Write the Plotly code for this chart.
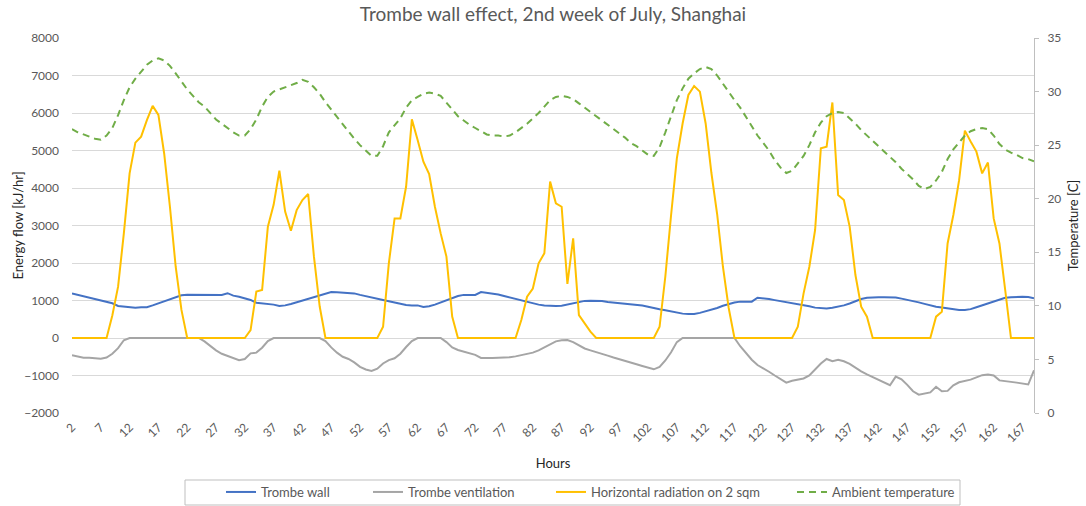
import plotly.graph_objects as go

# Hour index of the week (2..169)
hours = list(range(2, 170))

# Heat flow through the Trombe wall [kJ/hr]
trombe_wall = [
    1190, 1150, 1120, 1075, 1030, 985, 950, 925, 855, 835,
    830, 810, 820, 820, 870, 925, 995, 1050, 1100, 1140,
    1155, 1155, 1160, 1150, 1160, 1150, 1150, 1195, 1130, 1100,
    1060, 1015, 940, 925, 905, 890, 855, 870, 905, 950,
    995, 1060, 1100, 1130, 1190, 1225, 1220, 1210, 1210, 1190,
    1150, 1120, 1085, 1060, 1015, 980, 940, 905, 880, 870,
    870, 825, 845, 890, 950, 1020, 1080, 1120, 1150, 1150,
    1150, 1225, 1210, 1185, 1160, 1120, 1080, 1030, 990, 960,
    930, 890, 870, 855, 855, 860, 890, 925, 960, 990,
    995, 995, 985, 960, 945, 930, 910, 905, 890, 865,
    835, 790, 765, 740, 710, 680, 650, 640, 640, 670,
    710, 760, 800, 860, 910, 945, 970, 970, 970, 1075,
    1060, 1040, 1010, 985, 960, 935, 905, 875, 845, 810,
    790, 785, 805, 835, 870, 920, 980, 1040, 1075, 1085,
    1085, 1085, 1085, 1080, 1050, 1020, 985, 950, 910, 870,
    835, 815, 790, 765, 745, 750, 770, 820, 875, 930,
    985, 1035, 1075, 1090, 1100, 1100, 1095, 1060,
]

# Heat flow from Trombe ventilation [kJ/hr]
trombe_ventilation = [
    -460, -500, -525, -525, -540, -550, -520, -420, -270, -60,
    0, 0, 0, 0, 0, 0, 0, 0, 0, 0,
    0, 0, 0, -90, -210, -330, -420, -480, -530, -590,
    -560, -410, -390, -260, -80, 0, 0, 0, 0, 0,
    0, 0, 0, 0, -80, -250, -390, -500, -560, -650,
    -770, -840, -880, -820, -680, -590, -540, -420, -240, -80,
    0, 0, 0, 0, 0, -110, -250, -320, -360, -420,
    -450, -530, -540, -535, -525, -525, -515, -490, -460, -440,
    -390, -330, -250, -170, -90, -60, -55, -110, -200, -280,
    -330, -370, -410, -470, -520, -570, -610, -650, -700, -745,
    -800, -835, -770, -600, -380, -110, 0, 0, 0, 0,
    0, 0, 0, 0, 0, 0, -220, -400, -580, -720,
    -800, -900, -1000, -1100, -1190, -1140, -1100, -1080, -1000, -850,
    -680, -560, -620, -580, -620, -690, -800, -890, -970, -1040,
    -1110, -1200, -1260, -1030, -1100, -1250, -1420, -1510, -1490, -1450,
    -1300, -1420, -1410, -1260, -1180, -1150, -1110, -1050, -990, -975,
    -1000, -1130, -1160, -1170, -1190, -1220, -1240, -860,
]

# Horizontal solar radiation on 2 sqm [kJ/hr]
radiation = [
    0, 0, 0, 0, 0, 0, 0,
    600, 1370, 2790, 4390, 5210, 5370, 5810, 6190, 5950, 4920, 3500, 1900, 750,
    0,
    0, 0, 0, 0, 0, 0, 0, 0, 0, 0,
    210, 1240, 1280, 2970, 3550, 4460, 3370, 2860, 3410, 3680, 3840, 2170, 840,
    0,
    0, 0, 0, 0, 0, 0, 0, 0, 0,
    300, 1990, 3190, 3190, 4040, 5830, 5280, 4700, 4370, 3500, 2790, 2170, 570,
    0,
    0, 0, 0, 0, 0, 0, 0, 0, 0, 0,
    480, 1100, 1320, 1990, 2260, 4170, 3590, 3500, 1440, 2660, 610, 390, 170,
    0,
    0, 0, 0, 0, 0, 0, 0, 0, 0, 0,
    300, 1640, 3280, 4790, 5720, 6480, 6720, 6570, 5720, 4400, 3300, 1900, 800,
    0,
    0, 0, 0, 0, 0, 0, 0, 0, 0, 0,
    300, 1190, 1900, 2880, 5060, 5100, 6280, 3810, 3680, 2970, 1680, 835, 570,
    0,
    0, 0, 0, 0, 0, 0, 0, 0, 0, 0,
    570, 700, 2520, 3280, 4210, 5530, 5240, 4970, 4390, 4680, 3190, 2520, 1280,
    0,
    0, 0, 0, 0,
]

# Ambient air temperature [C]
ambient_temp = [
    26.5, 26.2, 26.0, 25.8, 25.6, 25.5, 25.9, 26.6, 27.8, 29.2,
    30.4, 31.2, 31.9, 32.5, 32.9, 33.1, 32.9, 32.4, 31.7, 30.9,
    30.2, 29.6, 29.0, 28.6, 28.0, 27.4, 27.0, 26.6, 26.2, 25.9,
    25.9, 26.5, 27.4, 28.6, 29.5, 30.0, 30.2, 30.4, 30.6, 30.8,
    31.1, 30.9, 30.4, 29.8, 29.0, 28.3, 27.7, 27.0, 26.3, 25.6,
    25.0, 24.5, 24.0, 24.0, 24.9, 26.2, 26.8, 27.5, 28.5, 29.2,
    29.5, 29.8, 29.9, 29.8, 29.6, 29.0, 28.3, 27.7, 27.3, 26.9,
    26.6, 26.3, 26.0, 25.9, 25.9, 25.8, 25.9, 26.2, 26.6, 27.0,
    27.5, 28.0, 28.6, 29.2, 29.5, 29.6, 29.5, 29.3, 28.9, 28.5,
    28.1, 27.7, 27.3, 26.9, 26.5, 26.1, 25.7, 25.2, 24.9, 24.5,
    24.1, 24.0, 24.8, 26.2, 27.7, 29.2, 30.3, 31.2, 31.7, 32.1,
    32.3, 32.1, 31.5, 30.7, 30.0, 29.2, 28.5, 27.6, 26.7, 25.9,
    25.2, 24.5, 23.6, 22.9, 22.4, 22.6, 23.3, 24.0, 25.0, 26.2,
    27.1, 27.7, 28.0, 28.1, 28.0, 27.5, 27.0, 26.4, 25.9, 25.4,
    24.9, 24.4, 23.9, 23.4, 22.8, 22.3, 21.8, 21.2, 20.9, 21.1,
    21.7, 22.5, 23.7, 24.6, 25.3, 25.9, 26.3, 26.5, 26.6, 26.5,
    25.9, 25.1, 24.6, 24.3, 24.1, 23.8, 23.7, 23.5,
]

for series in (trombe_wall, trombe_ventilation, radiation, ambient_temp):
    assert len(series) == len(hours), len(series)

# Labelled hours on the category axis
tick_hours = hours[::5]
tick_labels = [str(h) for h in tick_hours]

FONT = "Lato"
GRID = "#d9d9d9"
TXT = "#595959"
TITLE_TXT = "#262626"
W, H = 1086, 506
ML, MR, MT, MB = 72, 52, 38, 93
PW, PH = W - ML - MR, H - MT - MB

fig = go.Figure()
fig.add_trace(go.Scatter(x=hours, y=trombe_wall, name="Trombe wall", mode="lines",
                         legend="legend", line=dict(color="#4472C4", width=2)))
fig.add_trace(go.Scatter(x=hours, y=trombe_ventilation, name="Trombe ventilation", mode="lines",
                         legend="legend2", line=dict(color="#A5A5A5", width=2)))
fig.add_trace(go.Scatter(x=hours, y=radiation, name="Horizontal radiation on 2 sqm", mode="lines",
                         legend="legend3", line=dict(color="#FFC000", width=2)))
fig.add_trace(go.Scatter(x=hours, y=ambient_temp, name="Ambient temperature", mode="lines",
                         yaxis="y2", legend="legend4",
                         line=dict(color="#70AD47", width=2, dash="7px,5px")))

# One legend per series, laid out in a single framed row under the axis
legend_left_px = [221, 368, 551, 792]
legend_row_y = 492
legend_common = dict(orientation="h", xref="container", yref="container",
                     xanchor="left", yanchor="middle", y=1 - legend_row_y / H,
                     bgcolor="rgba(0,0,0,0)", borderwidth=0,
                     font=dict(family=FONT, size=13, color=TXT))
legends = {}
for i, px in enumerate(legend_left_px):
    key = "legend" if i == 0 else f"legend{i + 1}"
    legends[key] = dict(legend_common, x=px / W)

fig.update_layout(
    width=W, height=H,
    margin=dict(l=ML, r=MR, t=MT, b=MB, autoexpand=False),
    paper_bgcolor="white", plot_bgcolor="white",
    font=dict(family=FONT, size=12, color=TXT),
    title=dict(text="Trombe wall effect, 2nd week of July, Shanghai",
               x=0.5, xref="paper", xanchor="center", y=0.985, yanchor="top",
               font=dict(family=FONT, size=19, color=TXT)),
    xaxis=dict(range=[hours[0], hours[-1]], tickmode="array", tickvals=tick_hours,
               ticktext=tick_labels, tickangle=-45, showgrid=False, zeroline=False,
               showline=False, ticks="", automargin=True, ticklabelstandoff=4,
               tickfont=dict(size=12, color=TXT),
               title=dict(text="Hours", font=dict(size=13, color=TITLE_TXT), standoff=14)),
    # category axis drawn across the zero line with a tick at every hour
    xaxis2=dict(overlaying="x", anchor="free", position=2000 / 10000, side="bottom",
                range=[hours[0], hours[-1]], tickmode="linear", tick0=hours[0], dtick=1,
                ticks="inside", ticklen=4, tickcolor="#cfcfcf", showticklabels=False,
                showline=True, linecolor=GRID, linewidth=1, showgrid=False, zeroline=False),
    yaxis=dict(range=[-2000, 8000], dtick=1000, showgrid=True, gridcolor=GRID, gridwidth=1,
               zeroline=False, showline=False, ticks="", automargin=False,
               ticklabelstandoff=12, tickfont=dict(size=12, color=TXT)),
    yaxis2=dict(range=[0, 35], dtick=5, overlaying="y", side="right", showgrid=False,
                zeroline=False, showline=True, linecolor="#bfbfbf", linewidth=1,
                ticks="outside", ticklen=4, tickcolor="#bfbfbf", automargin=True,
                ticklabelstandoff=6, tickfont=dict(size=12, color=TXT),
                title=dict(text="Temperature [C]", font=dict(size=13, color=TITLE_TXT),
                           standoff=8)),
    showlegend=True,
    **legends,
)

# Left axis title, placed beside the tick labels
fig.add_annotation(text="Energy flow [kJ/hr]", textangle=-90, showarrow=False,
                   xref="paper", yref="paper", x=(17 - ML) / PW, y=0.5,
                   xanchor="center", yanchor="middle",
                   font=dict(family=FONT, size=13, color=TITLE_TXT))

# Frame around the legend row
fig.add_shape(type="rect", xref="paper", yref="paper",
              x0=(185 - ML) / PW, x1=(960 - ML) / PW,
              y0=(MT + PH - 505) / PH, y1=(MT + PH - 480) / PH,
              line=dict(color="#bfbfbf", width=1), fillcolor="rgba(0,0,0,0)", layer="above")

fig.write_html("out.html")
